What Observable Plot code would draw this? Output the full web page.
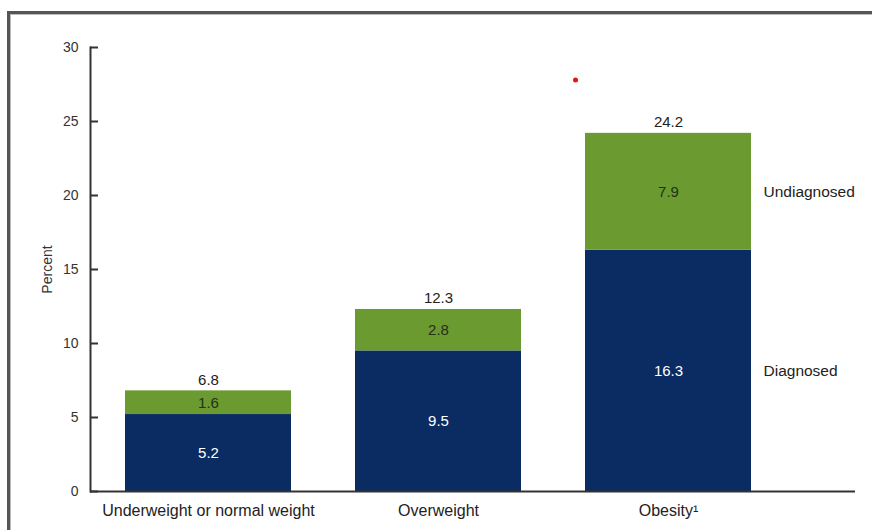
<!DOCTYPE html>
<html>
<head>
<meta charset="utf-8">
<script src="https://cdn.jsdelivr.net/npm/d3@7"></script>
<script src="https://cdn.jsdelivr.net/npm/@observablehq/plot@0.6"></script>
<style>
  html, body { margin: 0; padding: 0; background: #fff; overflow: hidden; }
  body { width: 872px; height: 530px; position: relative; font-family: "Liberation Sans", Arial, sans-serif; }
  #panel {
    position: absolute; left: 7px; top: 11px; width: 900px; height: 560px;
    border-left: 3px solid #555; border-top: 3px solid #555;
    box-shadow: inset 1px 1px 0 #bbb;
  }
  #chart { position: absolute; left: 0; top: 0; }
</style>
</head>
<body>
<div id="panel"></div>
<div id="chart"></div>
<script>
// Weight categories and the share of each with diagnosed / undiagnosed condition
const categories = ["Underweight or normal weight", "Overweight", "Obesity"];
const statuses = ["Diagnosed", "Undiagnosed"];
const diagnosed = [5.2, 9.5, 16.3];
const undiagnosed = [1.6, 2.8, 7.9];
const yTicks = [0, 5, 10, 15, 20, 25, 30];
const marker = [{cat: "Obesity", y: 27.8}];

const tickLabel = c => c === "Obesity" ? "Obesity\u00B9" : c;

const rows = [];
categories.forEach((c, i) => {
  rows.push({cat: c, status: "Diagnosed", value: diagnosed[i]});
  rows.push({cat: c, status: "Undiagnosed", value: undiagnosed[i]});
});
const totals = categories.map((c, i) => ({cat: c, total: +(diagnosed[i] + undiagnosed[i]).toFixed(1)}));

const navy = "#0b2c62";
const green = "#6a9a30";

const chart = Plot.plot({
  width: 872,
  height: 530,
  marginLeft: 90,
  marginRight: 17,
  marginTop: 47,
  marginBottom: 39,
  style: {fontFamily: "'Liberation Sans', Arial, sans-serif", background: "transparent", color: "#333"},
  x: {type: "band", domain: categories, range: [90, 786], paddingInner: 0.278, paddingOuter: 0.152},
  y: {domain: [0, 30]},
  color: {domain: statuses, range: [navy, green]},
  marks: [
    Plot.barY(rows, Plot.stackY({x: "cat", y: "value", fill: "status", order: statuses})),
    Plot.frame({anchor: "left", stroke: "#333", strokeWidth: 2}),
    Plot.ruleY([0], {stroke: "#333", strokeWidth: 2}),
    Plot.axisY({ticks: yTicks, tickSize: 0, tickPadding: 12, fontSize: 14, fill: "#333", label: "Percent", labelAnchor: "center", labelOffset: 48, labelArrow: "none"}),
    Plot.axisY({ticks: yTicks, tickSize: -8, text: null, stroke: "#333", strokeWidth: 2, label: null}),
    Plot.axisX({tickSize: 0, tickPadding: 13, fontSize: 16, fill: "#222", tickFormat: tickLabel, label: null}),
    Plot.text(rows, Plot.stackY({
      x: "cat", y: "value", z: "status", order: statuses,
      text: d => d.value.toFixed(1),
      fill: d => d.status === "Diagnosed" ? "#ffffff" : "#24321a",
      fontSize: 15
    })),
    Plot.text(totals, {x: "cat", y: "total", text: d => d.total.toFixed(1), dy: -11, fontSize: 15, fill: "#222"}),
    Plot.text(rows.filter(d => d.cat === "Obesity"), Plot.stackY({
      x: "cat", y: "value", z: "status", order: statuses,
      text: "status", textAnchor: "start", dx: 95, fontSize: 15.5, fill: "#222"
    })),
    Plot.dot(marker, {x: "cat", y: "y", dx: -93, r: 2.5, fill: "#e8101a", stroke: "none"})
  ]
});
document.getElementById("chart").append(chart);
</script>
</body>
</html>
